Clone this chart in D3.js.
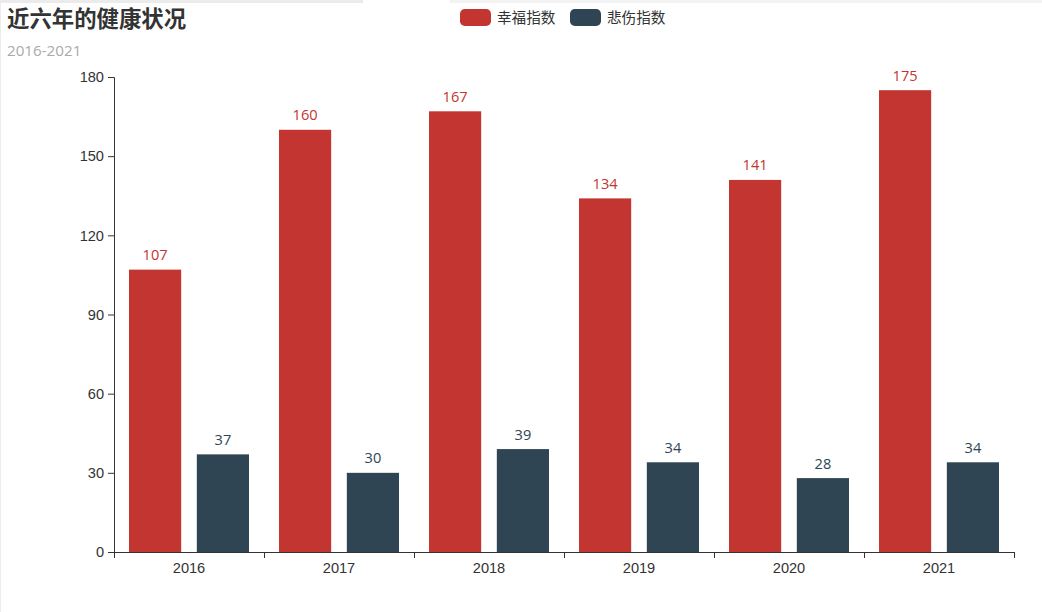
<!DOCTYPE html>
<html><head><meta charset="utf-8">
<script src="https://cdn.jsdelivr.net/npm/d3@7/dist/d3.min.js"></script>
<style>
html,body{margin:0;padding:0;background:#fff;}
svg{display:block;font-family:"Open Sans","Noto Sans CJK SC",sans-serif;}
</style></head>
<body><svg id="c" width="1042" height="612"></svg>
<script>
const categories = ["2016","2017","2018","2019","2020","2021"];
const seriesNames = ["幸福指数","悲伤指数"];
const happy = [107,160,167,134,141,175];
const sad = [37,30,39,34,28,34];
const yTicks = [0,30,60,90,120,150,180];
const titleText = "近六年的健康状况";
const subtitleText = "2016-2021";
const colors = ["#c23531","#2f4554"];

const svg = d3.select("#c");
// browser chrome artifacts
svg.append("rect").attr("x",0).attr("y",0).attr("width",363).attr("height",3).attr("fill","#ebebeb");
svg.append("rect").attr("x",450).attr("y",0).attr("width",592).attr("height",3).attr("fill","#f3f3f3");
svg.append("rect").attr("x",0).attr("y",0).attr("width",1).attr("height",612).attr("fill","#ececec");

const m = {left:114, right:1014, top:77, bottom:552};
const x = d3.scaleBand().domain(categories).range([m.left,m.right]).paddingInner(0).paddingOuter(0);
const y = d3.scaleLinear().domain([0,180]).range([m.bottom,m.top]);
const bw = x.bandwidth();
const inner = bw*0.8;
const barW = inner/2.3;
const gap = barW*0.3;
const x1 = d3.scaleOrdinal().domain([0,1]).range([bw*0.1, bw*0.1+barW+gap]);

// axes
const yAxis = d3.axisLeft(y).tickValues(yTicks).tickSize(6).tickPadding(4);
const gy = svg.append("g").attr("transform",`translate(${m.left},0)`).call(yAxis);
gy.select(".domain").attr("stroke","#333");
gy.selectAll(".tick line").attr("stroke","#333");
gy.selectAll(".tick text").attr("fill","#333").style("font-size","14.6px");

const xAxis = d3.axisBottom(x).tickSize(0).tickPadding(11);
const gx = svg.append("g").attr("transform",`translate(0,${m.bottom})`).call(xAxis);
gx.select(".domain").attr("stroke","#333").attr("d",`M${m.left},0.5H${m.right}`);
gx.selectAll(".tick text").attr("fill","#333").style("font-size","14.6px");
// boundary ticks
const bounds = categories.map(c=>x(c)).concat([m.right]);
gx.selectAll(".bt").data(bounds).enter().append("line")
  .attr("x1",d=>Math.round(d)+0.5).attr("x2",d=>Math.round(d)+0.5).attr("y1",0).attr("y2",6).attr("stroke","#333");

const data = [happy, sad];
data.forEach((vals,si)=>{
  const g = svg.append("g");
  g.selectAll("rect").data(vals).enter().append("rect")
    .attr("x",(d,i)=>x(categories[i])+x1(si))
    .attr("y",d=>y(d))
    .attr("width",barW)
    .attr("height",d=>y(0)-y(d))
    .attr("fill",colors[si]);
  g.selectAll("text").data(vals).enter().append("text")
    .attr("x",(d,i)=>x(categories[i])+x1(si)+barW/2)
    .attr("y",d=>y(d)-9.5)
    .attr("text-anchor","middle")
    .attr("fill",colors[si])
    .style("font-size","14.6px")
    .text(d=>d);
});

// title
svg.append("text").attr("x",7).attr("y",27).attr("fill","#333")
  .style("font-size","22.4px").style("font-weight","bold").text(titleText);
svg.append("text").attr("x",7).attr("y",56).attr("fill","#aaa")
  .style("font-size","15.2px").text(subtitleText);

// legend
const legX = [460, 570];
seriesNames.forEach((n,i)=>{
  svg.append("rect").attr("x",legX[i]).attr("y",9).attr("width",31).attr("height",17)
    .attr("rx",4.8).attr("fill",colors[i]);
  svg.append("text").attr("x",legX[i]+37).attr("y",22.5).attr("fill","#333")
    .style("font-size","14.6px").text(n);
});
</script></body></html>
